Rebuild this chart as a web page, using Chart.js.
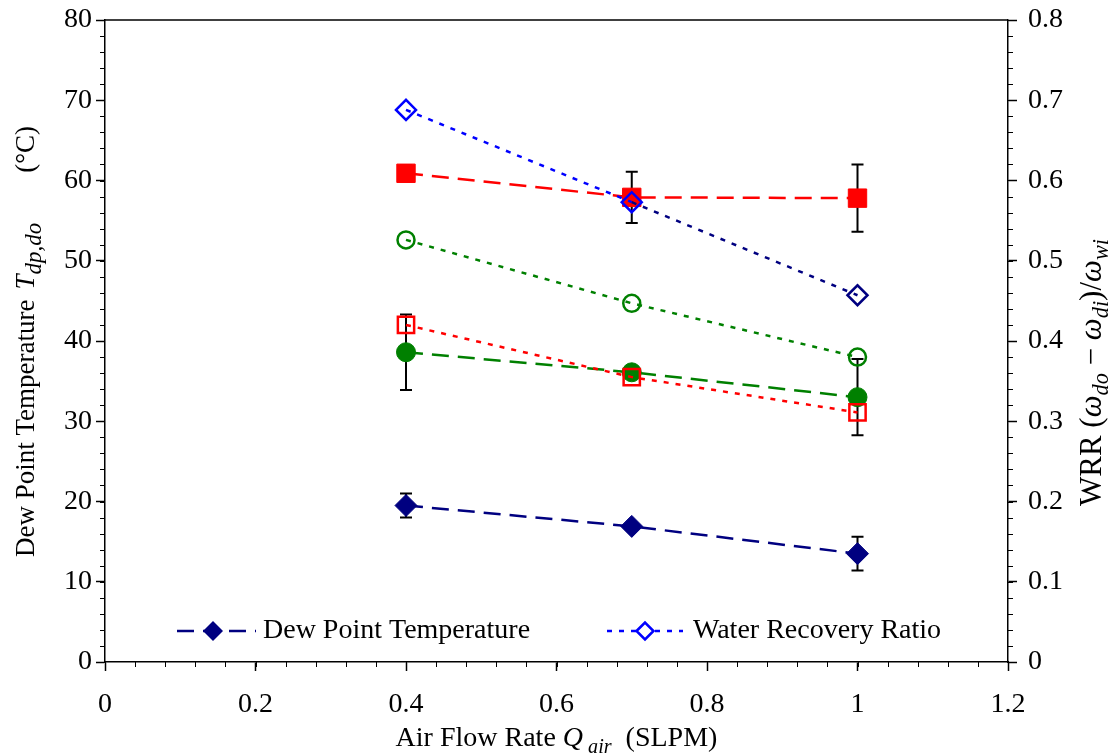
<!DOCTYPE html>
<html>
<head>
<meta charset="utf-8">
<script src="https://cdn.jsdelivr.net/npm/chart.js@4/dist/chart.umd.min.js"></script>
<style>
  html, body { margin: 0; padding: 0; background: #fff; }
  canvas { display: block; }
</style>
</head>
<body>
<canvas id="chart" width="1112" height="754"></canvas>
<script>
// data
const airFlow = [0.4, 0.7, 1.0];

const dewDiamond = [19.5, 16.9, 13.5];
const dewDiamondErr = [1.5, 0, 2.1];
const dewSquare = [60.9, 57.9, 57.8];
const dewSquareErr = [1.0, 3.2, 4.2];
const dewCircle = [38.6, 36.1, 33.0];
const dewCircleErr = [4.7, 0, 4.75];

const wrrDiamond = [0.688, 0.573, 0.457];
const wrrCircle = [0.526, 0.447, 0.380];
const wrrSquare = [0.420, 0.355, 0.311];

const xTickLabels = ["0", "0.2", "0.4", "0.6", "0.8", "1", "1.2"];
const leftTickLabels = ["0", "10", "20", "30", "40", "50", "60", "70", "80"];
const rightTickLabels = ["0", "0.1", "0.2", "0.3", "0.4", "0.5", "0.6", "0.7", "0.8"];

const FONT = "'Liberation Serif', 'Times New Roman', serif";
const DASHED = [17, 9];
const DOTTED = [5, 7];

function pts(ys) {
    return airFlow.map((x, i) => ({ x: x, y: ys[i] }));
}

// error bars, drawn under the markers
const errorBars = {
    id: "errorBars",
    beforeDatasetsDraw(chart) {
        const ctx = chart.ctx;
        const xs = chart.scales.x;
        const ys = chart.scales.y;
        const sets = [
            [dewDiamond, dewDiamondErr],
            [dewSquare, dewSquareErr],
            [dewCircle, dewCircleErr],
        ];
        ctx.save();
        ctx.strokeStyle = "#000";
        ctx.lineWidth = 2;
        sets.forEach(([vals, errs]) => {
            vals.forEach((v, i) => {
                if (!errs[i]) return;
                const px = xs.getPixelForValue(airFlow[i]);
                const top = ys.getPixelForValue(v + errs[i]);
                const bot = ys.getPixelForValue(v - errs[i]);
                ctx.beginPath();
                ctx.moveTo(px, top);
                ctx.lineTo(px, bot);
                ctx.moveTo(px - 6, top);
                ctx.lineTo(px + 6, top);
                ctx.moveTo(px - 6, bot);
                ctx.lineTo(px + 6, bot);
                ctx.stroke();
            });
        });
        ctx.restore();
    },
};

// text with italic / subscript pieces; {gap: px} adds space
function setFont(ctx, p, size) {
    const s = p.sub ? size * (p.scale || 0.72) : size;
    ctx.font = (p.italic ? "italic " : "") + s + "px " + FONT;
}

function partWidth(ctx, p, size) {
    if (p.gap) return p.gap;
    setFont(ctx, p, size);
    return ctx.measureText(p.t).width;
}

// x0, y0 is the start of the text (or its centre if centred)
function drawRich(ctx, parts, x0, y0, rot, size, centred) {
    ctx.save();
    ctx.translate(x0, y0);
    ctx.rotate(rot);
    ctx.fillStyle = "#000";
    ctx.textBaseline = "middle";
    ctx.textAlign = "left";
    let total = 0;
    parts.forEach((p) => { total += partWidth(ctx, p, size); });
    let x = centred ? -total / 2 : 0;
    parts.forEach((p) => {
        if (!p.gap) {
            setFont(ctx, p, size);
            ctx.fillText(p.t, x, p.sub ? size * 0.3 : 0);
        }
        x += partWidth(ctx, p, size);
    });
    ctx.restore();
}

const decorations = {
    id: "decorations",
    afterDraw(chart) {
        const ctx = chart.ctx;
        const area = chart.chartArea;
        const xs = chart.scales.x;
        const yl = chart.scales.y;
        const yr = chart.scales.y2;

        ctx.save();
        ctx.strokeStyle = "#000";
        ctx.lineWidth = 1.5;

        // top frame line
        ctx.beginPath();
        ctx.moveTo(area.left, area.top);
        ctx.lineTo(area.right, area.top);
        ctx.stroke();

        // minor ticks
        ctx.lineWidth = 1;
        ctx.beginPath();
        for (let v = 0; v <= 1.2001; v += 0.04) {
            const px = Math.round(xs.getPixelForValue(v)) + 0.5;
            ctx.moveTo(px, area.bottom);
            ctx.lineTo(px, area.bottom + 5);
        }
        for (let v = 0; v <= 80.01; v += 2) {
            const py = Math.round(yl.getPixelForValue(v)) + 0.5;
            ctx.moveTo(area.left, py);
            ctx.lineTo(area.left - 5, py);
        }
        for (let v = 0; v <= 0.8001; v += 0.02) {
            const py = Math.round(yr.getPixelForValue(v)) + 0.5;
            ctx.moveTo(area.right, py);
            ctx.lineTo(area.right + 5, py);
        }
        ctx.stroke();
        ctx.restore();

        // axis titles
        drawRich(ctx, [
            { t: "Air Flow Rate " },
            { t: "Q", italic: true },
            { t: " air", italic: true, sub: true },
            { t: "  (SLPM)" },
        ], (area.left + area.right) / 2, 739, 0, 28, true);

        drawRich(ctx, [
            { t: "Dew Point Temperature" },
            { gap: 10 },
            { t: "T", italic: true },
            { t: "dp,do", italic: true, sub: true, scale: 0.85 },
            { gap: 50 },
            { t: "(\u00B0C)" },
        ], 27, 557, -Math.PI / 2, 27, false);

        drawRich(ctx, [
            { t: "WRR (" },
            { t: "\u03C9", italic: true },
            { t: "do", italic: true, sub: true },
            { t: " \u2212 " },
            { t: "\u03C9", italic: true },
            { t: "di", italic: true, sub: true },
            { t: ")/" },
            { t: "\u03C9", italic: true },
            { t: "wi", italic: true, sub: true },
        ], 1093, 506, -Math.PI / 2, 31, false);

        // legend inside the plot
        const legendY = 631;
        const items = [
            { x0: 177, x1: 256, mx: 213, tx: 263, color: "#000080", dash: DASHED, fill: true, label: "Dew Point Temperature" },
            { x0: 607, x1: 683, mx: 645, tx: 693, color: "#0000ff", dash: DOTTED, fill: false, label: "Water Recovery Ratio" },
        ];
        items.forEach((it) => {
            ctx.save();
            ctx.strokeStyle = it.color;
            ctx.lineWidth = 2.5;
            ctx.setLineDash(it.dash);
            ctx.beginPath();
            ctx.moveTo(it.x0, legendY);
            ctx.lineTo(it.x1, legendY);
            ctx.stroke();
            ctx.setLineDash([]);
            const r = it.fill ? 10 : 8.5;
            ctx.beginPath();
            ctx.moveTo(it.mx - r, legendY);
            ctx.lineTo(it.mx, legendY - r);
            ctx.lineTo(it.mx + r, legendY);
            ctx.lineTo(it.mx, legendY + r);
            ctx.closePath();
            if (it.fill) {
                ctx.fillStyle = it.color;
                ctx.fill();
            } else {
                ctx.fillStyle = "#fff";
                ctx.fill();
                ctx.stroke();
            }
            ctx.fillStyle = "#000";
            ctx.font = "28px " + FONT;
            ctx.textBaseline = "middle";
            ctx.fillText(it.label, it.tx, legendY);
            ctx.restore();
        });
    },
};

function axisOpts(extra) {
    return Object.assign({
        type: "linear",
        grid: {
            drawOnChartArea: false,
            drawTicks: true,
            tickLength: 9,
            tickColor: "#000",
            tickWidth: 1.5,
        },
        border: { display: true, color: "#000", width: 1.5 },
        ticks: {
            color: "#000",
            font: { family: FONT, size: 28 },
        },
    }, extra);
}

// fixed sizes so the plot area sits where the figure has it
function fitY(width) {
    return (s) => {
        s.width = width;
        s.paddingTop = 0;
        s.paddingBottom = 0;
    };
}

const xAxis = axisOpts({ position: "bottom", min: 0, max: 1.2 });
xAxis.ticks = Object.assign({}, xAxis.ticks, {
    stepSize: 0.2,
    padding: 17,
    maxRotation: 0,
    callback: (v, i) => xTickLabels[i] ?? v,
});
xAxis.afterFit = (s) => {
    s.height = 92;
    s.paddingLeft = 0;
    s.paddingRight = 0;
};

const yAxis = axisOpts({ position: "left", min: 0, max: 80 });
yAxis.ticks = Object.assign({}, yAxis.ticks, {
    stepSize: 10,
    padding: 4,
    callback: (v, i) => leftTickLabels[i] ?? v,
});
yAxis.afterFit = fitY(105);

const y2Axis = axisOpts({ position: "right", min: 0, max: 0.8 });
y2Axis.ticks = Object.assign({}, y2Axis.ticks, {
    stepSize: 0.1,
    padding: 11,
    callback: (v, i) => rightTickLabels[i] ?? v,
});
y2Axis.afterFit = fitY(104);

const navy = "#000080";
const blue = "#0000ff";
const red = "#ff0000";
const green = "#008000";

new Chart(document.getElementById("chart"), {
    type: "scatter",
    data: {
        datasets: [
            {
                label: "WRR diamond",
                data: pts(wrrDiamond),
                yAxisID: "y2",
                showLine: true,
                borderColor: blue,
                borderWidth: 2.5,
                borderDash: DOTTED,
                segment: { borderColor: (c) => (c.p0DataIndex === 1 ? navy : blue) },
                pointStyle: "rectRot",
                pointRadius: 10,
                pointBorderWidth: 2.5,
                pointBorderColor: [blue, blue, navy],
                pointBackgroundColor: "rgba(0,0,0,0)",
            },
            {
                label: "WRR square",
                data: pts(wrrSquare),
                yAxisID: "y2",
                showLine: true,
                borderColor: red,
                borderWidth: 2.5,
                borderDash: DOTTED,
                pointStyle: "rect",
                pointRadius: 11.5,
                pointBorderWidth: 2.5,
                pointBorderColor: red,
                pointBackgroundColor: "rgba(0,0,0,0)",
            },
            {
                label: "WRR circle",
                data: pts(wrrCircle),
                yAxisID: "y2",
                showLine: true,
                borderColor: green,
                borderWidth: 2.5,
                borderDash: DOTTED,
                pointStyle: "circle",
                pointRadius: 8.5,
                pointBorderWidth: 2.5,
                pointBorderColor: green,
                pointBackgroundColor: "rgba(0,0,0,0)",
            },
            {
                label: "Dew Point Temperature",
                data: pts(dewDiamond),
                yAxisID: "y",
                showLine: true,
                borderColor: navy,
                borderWidth: 2.5,
                borderDash: DASHED,
                pointStyle: "rectRot",
                pointRadius: 11,
                pointBorderWidth: 1,
                pointBorderColor: navy,
                pointBackgroundColor: navy,
            },
            {
                label: "Dew square",
                data: pts(dewSquare),
                yAxisID: "y",
                showLine: true,
                borderColor: red,
                borderWidth: 2.5,
                borderDash: DASHED,
                pointStyle: "rect",
                pointRadius: 13,
                pointBorderWidth: 1,
                pointBorderColor: red,
                pointBackgroundColor: red,
            },
            {
                label: "Dew circle",
                data: pts(dewCircle),
                yAxisID: "y",
                showLine: true,
                borderColor: green,
                borderWidth: 2.5,
                borderDash: DASHED,
                pointStyle: "circle",
                pointRadius: 9.5,
                pointBorderWidth: 1,
                pointBorderColor: green,
                pointBackgroundColor: green,
            },
        ],
    },
    options: {
        responsive: false,
        animation: false,
        layout: { padding: { top: 20, left: 0, right: 0, bottom: 0 } },
        plugins: {
            legend: { display: false },
            tooltip: { enabled: false },
        },
        scales: { x: xAxis, y: yAxis, y2: y2Axis },
    },
    plugins: [errorBars, decorations],
});
</script>
</body>
</html>
